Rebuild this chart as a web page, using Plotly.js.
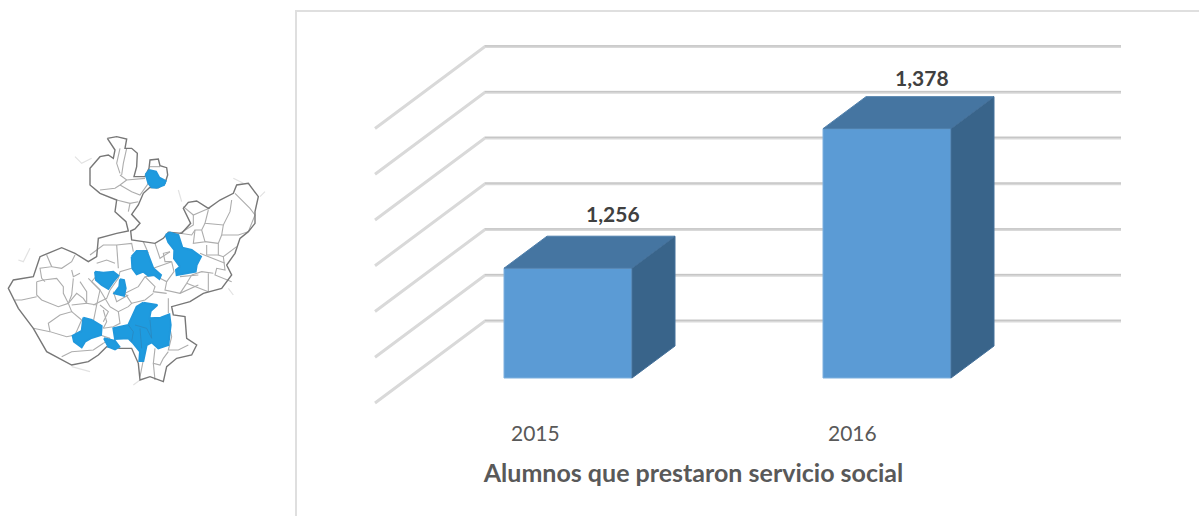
<!DOCTYPE html>
<html><head><meta charset="utf-8">
<script src="https://cdn.plot.ly/plotly-3.0.1.min.js"></script>
<style>html,body{margin:0;padding:0;background:#fff}#c{width:1199px;height:516px}</style>
</head><body><div id="c"></div>
<script>
// ---- chart data ----
const years = ['2015', '2016'];
const alumnos = [1256, 1378];
const valueLabels = ['1,256', '1,378'];
const gridValues = [1160, 1200, 1240, 1280, 1320, 1360, 1400];
const chartTitle = 'Alumnos que prestaron servicio social';

// ---- map data (municipal outlines, in map units) ----
const mapOutline = [[322,40],[350,35],[380,42],[375,70],[395,70],[412,85],[410,125],[402,155],[435,155],[447,130],[450,105],[475,102],[480,122],[500,128],[503,150],[495,175],[475,188],[450,187],[430,205],[415,240],[395,268],[420,295],[405,312],[392,318],[395,345],[430,350],[465,355],[490,340],[505,322],[545,325],[572,295],[550,250],[565,232],[590,228],[625,250],[660,225],[700,205],[710,180],[745,175],[775,215],[765,260],[765,295],[745,320],[720,340],[705,385],[680,420],[695,450],[665,490],[610,505],[570,530],[515,545],[520,570],[555,575],[560,640],[590,660],[575,690],[530,700],[500,725],[490,770],[450,755],[420,765],[415,715],[395,670],[360,670],[320,665],[295,690],[265,710],[215,720],[185,705],[140,680],[100,610],[55,550],[25,490],[40,465],[100,455],[120,395],[185,368],[225,385],[265,410],[290,395],[295,340],[350,325],[385,318],[378,290],[345,260],[350,225],[300,205],[270,180],[270,130],[300,95],[325,90],[340,100],[345,75],[322,40]];
const mapInner = [
 [[360,70],[350,115],[360,145]],[[380,70],[370,115],[365,150]],[[360,150],[380,165],[435,160]],
 [[300,195],[345,190],[360,180],[380,165]],[[360,180],[395,200],[420,210],[445,175]],[[350,225],[390,235],[415,230]],
 [[385,260],[390,235]],[[450,125],[480,125]],
 [[550,245],[580,270],[615,255],[630,250]],[[580,270],[580,300],[540,325]],
 [[695,225],[690,260],[670,300],[615,295],[625,255]],[[705,205],[750,250],[765,270],[745,320],[715,330],[665,330]],
 [[670,300],[665,330],[655,355],[655,390],[670,395],[710,365]],[[615,295],[605,315],[615,350],[580,355],[585,315],[605,315]],
 [[615,350],[655,355]],[[540,325],[575,330],[585,315]],[[620,360],[620,390],[655,390]],
 [[670,395],[675,435],[650,430],[645,450],[695,470]],[[600,385],[640,400],[675,415]],[[575,450],[605,440],[640,445]],
 [[560,475],[575,450]],[[625,445],[625,500]],
 [[140,390],[155,425],[120,430],[125,460],[135,470]],[[155,425],[185,430],[215,410],[225,390]],[[215,435],[220,455],[240,445]],
 [[110,470],[130,465],[170,460],[190,485],[190,505],[205,535],[175,545],[125,525],[110,510],[110,470]],
 [[45,525],[65,525],[110,515]],[[205,535],[230,505],[250,520],[260,535],[215,540]],
 [[205,535],[215,560],[180,570],[145,595],[150,620],[200,635],[225,630]],[[215,560],[245,585]],
 [[220,460],[215,510],[205,535]],[[240,470],[260,500],[260,535],[290,540]],[[265,460],[300,495],[290,540],[280,590]],
 [[100,610],[150,620]],[[185,695],[215,680],[280,675],[310,655]],
 [[510,610],[515,635],[505,675],[535,675],[565,660]],[[465,670],[460,715],[480,720],[490,700],[505,680]],
 [[430,705],[420,755]],[[460,715],[465,765]],
 [[270,390],[310,360],[350,360],[395,355],[400,380]],[[350,360],[355,430]],[[290,415],[320,405],[345,415]],
 [[395,430],[360,440],[355,460],[330,495],[320,520],[280,540]],[[375,505],[415,485],[435,455],[470,450]],
 [[480,460],[500,470],[495,495],[540,505],[595,480]],[[515,410],[495,410],[490,385],[510,380]],
 [[435,455],[465,485],[460,500],[500,505]],[[375,505],[395,535],[385,545],[355,560],[330,545]],
 [[395,535],[435,525],[460,505]],[[505,520],[505,565]],[[355,560],[360,595],[340,605],[310,610]],
 [[310,555],[320,590],[310,610]],[[300,495],[330,545]],[[560,475],[625,500]],[[540,505],[560,475]],
 [[540,455],[595,450]],[[515,410],[522,440],[500,470]],[[465,355],[480,400],[510,380]],[[430,350],[445,385]],[[460,430],[515,410]],
 [[300,540],[325,560],[310,590]],[[340,500],[350,530],[385,510]],[[300,440],[275,470],[300,495]],[[245,585],[225,630]],[[300,630],[330,640],[310,655]]
];
const mapRivers = [
 [[225,95],[245,115],[275,100]],[[535,195],[545,230]],[[700,160],[730,175]],[[780,215],[795,200]],
 [[55,405],[70,410],[90,370]],[[215,725],[270,740]],[[400,780],[420,765]],[[685,490],[700,510]]
];
const mapBlue = [
 [[437,148],[448,135],[468,140],[478,158],[497,168],[492,180],[470,188],[455,187],[445,175]],
 [[497,330],[510,323],[535,330],[547,368],[575,375],[603,395],[590,420],[587,440],[560,445],[530,450],[528,435],[540,425],[522,400],[523,375],[505,352]],
 [[395,395],[410,378],[440,378],[450,405],[460,430],[483,450],[478,462],[462,450],[445,452],[430,440],[410,448],[397,430]],
 [[285,440],[310,443],[340,440],[355,452],[340,470],[325,492],[305,480],[288,465]],
 [[360,463],[372,465],[377,490],[372,512],[343,505],[358,485]],
 [[250,578],[275,585],[305,603],[303,630],[272,640],[255,650],[245,667],[222,650],[218,632],[245,618]],
 [[312,640],[345,648],[358,665],[345,673],[325,665]],
 [[430,533],[472,540],[452,558],[448,580],[482,578],[508,568],[512,600],[505,660],[475,670],[455,652],[440,660],[435,682],[430,708],[418,708],[420,680],[400,655],[385,640],[345,642],[340,610],[385,600],[400,570],[410,545]]
];
const mapBlueInner = [
 [[405,600],[440,610],[455,640]],[[450,585],[455,640]],[[395,650],[400,620],[385,600]],[[420,610],[425,670]]
];

// ---- projection of the pseudo-3D view onto the flat axes ----
const W = 1199, H = 516;
const pxPerCategory = 319, firstCategoryPx = 568;
const pxPerValue = 274.5 / 240;
const wallBasePx = 321;            // y pixel of the lowest gridline on the back wall
const baseValue = gridValues[0], topValue = gridValues[gridValues.length - 1];
const xRange = [-firstCategoryPx / pxPerCategory, (W - firstCategoryPx) / pxPerCategory];
const yRange = [baseValue - (H - wallBasePx) / pxPerValue, baseValue + wallBasePx / pxPerValue];
const cat = px => px / pxPerCategory, val = px => px / pxPerValue;

const barWidth = 128 / pxPerCategory;
const frontDY = val(57);                 // bar front plane relative to back wall
const depthX = cat(43), depthY = val(32);
const wallX = cat(485 - firstCategoryPx), wallRightX = cat(1121 - firstCategoryPx);
const floorX = cat(-110), floorY = val(82);

const gridColor = '#d9d9d9', gridCore = '#c6c6c6';
const traces = [];
const lineT = (x, y, color, width, xa, ya) => ({type:'scatter', mode:'lines', x, y, xaxis:xa, yaxis:ya,
  line:{color, width, shape:'linear'}, hoverinfo:'skip', showlegend:false});

// gridlines (bottom subplot)
gridValues.forEach(v => {
  const xs = [wallX + floorX, wallX, wallRightX];
  const ys = [v - floorY, v, v];
  traces.push(lineT(xs, ys, gridColor, 3, 'x', 'y'));
  traces.push(lineT(xs.slice(1), [v + val(0.6), v + val(0.6)], gridCore, 1.2, 'x', 'y'));
});

// front faces of the bars
const catPos = years.map((_, i) => i);
traces.push({type:'bar', x:catPos, y:alumnos.map(v => v - baseValue), base:alumnos.map(() => baseValue - frontDY),
  width:barWidth, xaxis:'x2', yaxis:'y2', marker:{color:'#5B9BD5', line:{color:'#7FB0DE', width:1}},
  hoverinfo:'skip', showlegend:false});

// top and side faces
alumnos.forEach((v, i) => {
  const l = i - barWidth / 2, r = i + barWidth / 2, t = v - frontDY, b = baseValue - frontDY;
  traces.push({type:'scatter', mode:'lines', xaxis:'x2', yaxis:'y2', fill:'toself', fillcolor:'#4575A1',
    line:{color:'#4F7FAB', width:1}, hoverinfo:'skip', showlegend:false,
    x:[l, r, r + depthX, l + depthX, l], y:[t, t, t + depthY, t + depthY, t]});
  traces.push({type:'scatter', mode:'lines', xaxis:'x2', yaxis:'y2', fill:'toself', fillcolor:'#39648A',
    line:{color:'#44709A', width:1}, hoverinfo:'skip', showlegend:false,
    x:[r, r + depthX, r + depthX, r, r], y:[t, t + depthY, b + depthY, b, t]});
});

// value labels
const labelDX = [cat(45), cat(35)];
const txtFont = {family:'Lato, "Open Sans", sans-serif'};
const annotations = [];
alumnos.forEach((v, i) => annotations.push({xref:'x2', yref:'y2', x:i + labelDX[i], y:v - frontDY + depthY + [val(23), val(19)][i],
  text:'<b>' + valueLabels[i] + '</b>', showarrow:false, xanchor:'center', yanchor:'middle',
  font:{...txtFont, size:21, color:'#404040'}}));
// category labels
years.forEach((y, i) => annotations.push({xref:'x2', yref:'y2', x:i + cat(i === 0 ? -33 : -35), y:baseValue - val(432 - wallBasePx),
  text:y, showarrow:false, xanchor:'center', yanchor:'middle',
  font:{...txtFont, size:21, color:'#595959'}}));

// map
mapRivers.forEach(r => traces.push(lineT(r.map(p=>p[0]), r.map(p=>p[1]), '#e2e2e2', 1.2, 'x3', 'y3')));
mapInner.forEach(r => traces.push(lineT(r.map(p=>p[0]), r.map(p=>p[1]), '#adadad', 1.1, 'x3', 'y3')));
traces.push(lineT(mapOutline.map(p=>p[0]), mapOutline.map(p=>p[1]), '#777777', 1.4, 'x3', 'y3'));
mapBlue.forEach(r => traces.push({type:'scatter', mode:'lines', xaxis:'x3', yaxis:'y3', fill:'toself', fillcolor:'#1E9BDF',
  x:r.map(p=>p[0]).concat(r[0][0]), y:r.map(p=>p[1]).concat(r[0][1]), line:{color:'#2098DC', width:2}, hoverinfo:'skip', showlegend:false}));
mapBlueInner.forEach(r => traces.push(lineT(r.map(p=>p[0]), r.map(p=>p[1]), '#2A86BE', 0.8, 'x3', 'y3')));

const hidden = {visible:false, fixedrange:true};
const layout = {
  width:W, height:H, margin:{l:0, r:0, t:0, b:0, pad:0}, paper_bgcolor:'#fff', plot_bgcolor:'rgba(0,0,0,0)',
  showlegend:false, barmode:'overlay',
  title:{text:'<b>' + chartTitle + '</b>', xref:'paper', yref:'paper', x:693.5 / W, y:1 - 473 / H, xanchor:'center', yanchor:'middle',
    font:{...txtFont, size:25, color:'#595959'}},
  xaxis:{...hidden, range:xRange, domain:[0, 1]},
  yaxis:{...hidden, range:yRange, domain:[0, 1]},
  xaxis2:{...hidden, range:xRange, overlaying:'x'},
  yaxis2:{...hidden, range:yRange, overlaying:'y'},
  xaxis3:{...hidden, range:[0, 840], domain:[0, 280 / W], anchor:'y3'},
  yaxis3:{...hidden, range:[795, 0], domain:[1 - 390 / H, 1 - 125 / H], anchor:'x3'},
  shapes:[
    {type:'line', xref:'paper', yref:'paper', x0:296 / W, x1:1, y0:1 - 11 / H, y1:1 - 11 / H, line:{color:'#dfdfdf', width:2}},
    {type:'line', xref:'paper', yref:'paper', x0:296 / W, x1:296 / W, y0:0, y1:1 - 10 / H, line:{color:'#dfdfdf', width:2}}
  ],
  annotations
};
Plotly.newPlot('c', traces, layout, {displayModeBar:false, staticPlot:true});
</script></body></html>
